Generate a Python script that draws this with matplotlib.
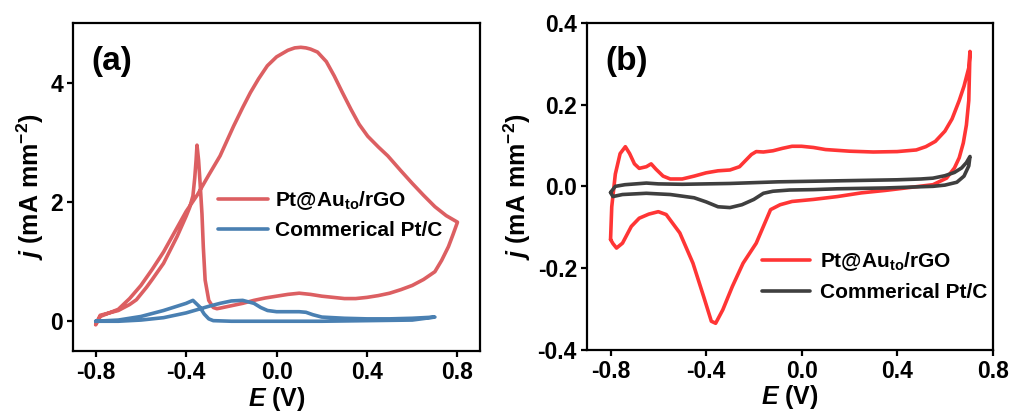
import numpy as np
import matplotlib
matplotlib.use('Agg')
from matplotlib import pyplot as plt

plt.rcParams['font.family'] = ['Liberation Sans', 'DejaVu Sans']
plt.rcParams['font.weight'] = 'bold'
plt.rcParams['axes.labelweight'] = 'bold'
plt.rcParams['axes.unicode_minus'] = False
plt.rcParams['mathtext.fontset'] = 'custom'
plt.rcParams['mathtext.it'] = 'Liberation Sans:italic:bold'
plt.rcParams['mathtext.rm'] = 'Liberation Sans:bold'
plt.rcParams['mathtext.bf'] = 'Liberation Sans:bold'

# (a) Pt@Au_to/rGO, forward then reverse scan
a_red_fwd_x = [-0.80, -0.78, -0.74, -0.70, -0.65, -0.60, -0.55, -0.50, -0.45, -0.40,
               -0.35, -0.30, -0.25, -0.19, -0.15, -0.116, -0.08, -0.041, 0.00, 0.05,
               0.08, 0.107, 0.13, 0.15, 0.181, 0.22, 0.255, 0.29, 0.329, 0.365,
               0.403, 0.45, 0.492, 0.55, 0.60, 0.65, 0.70, 0.75, 0.80]
a_red_fwd_y = [-0.06, 0.08, 0.14, 0.20, 0.38, 0.60, 0.87, 1.16, 1.50, 1.84,
               2.12, 2.45, 2.77, 3.27, 3.58, 3.83, 4.06, 4.28, 4.43, 4.54,
               4.58, 4.59, 4.58, 4.56, 4.51, 4.35, 4.11, 3.84, 3.55, 3.30,
               3.10, 2.92, 2.77, 2.52, 2.31, 2.11, 1.92, 1.77, 1.66]
a_red_rev_x = [0.80, 0.78, 0.76, 0.73, 0.70, 0.65, 0.60, 0.55, 0.50, 0.45,
               0.40, 0.35, 0.30, 0.25, 0.20, 0.15, 0.10, 0.05, 0.00, -0.05,
               -0.10, -0.15, -0.20, -0.25, -0.264, -0.28, -0.30, -0.316, -0.324, -0.33,
               -0.338, -0.345, -0.352, -0.356, -0.362, -0.37, -0.385, -0.40, -0.44, -0.50,
               -0.55, -0.575, -0.62, -0.65, -0.70, -0.75, -0.78, -0.80]
a_red_rev_y = [1.66, 1.45, 1.25, 1.02, 0.83, 0.70, 0.60, 0.53, 0.47, 0.43,
               0.40, 0.38, 0.38, 0.40, 0.42, 0.45, 0.47, 0.45, 0.42, 0.39,
               0.35, 0.30, 0.26, 0.22, 0.21, 0.23, 0.35, 0.69, 1.24, 1.80,
               2.30, 2.70, 2.95, 2.70, 2.40, 2.10, 1.90, 1.76, 1.42, 0.97,
               0.70, 0.57, 0.36, 0.28, 0.18, 0.13, 0.10, -0.05]

# (a) Commerical Pt/C
a_blue_fwd_x = [-0.80, -0.70, -0.60, -0.50, -0.40, -0.30, -0.25, -0.20, -0.15, -0.10,
                -0.07, -0.04, 0.00, 0.05, 0.10, 0.13, 0.16, 0.20, 0.30, 0.40,
                0.50, 0.60, 0.70]
a_blue_fwd_y = [0.00, 0.00, 0.02, 0.06, 0.14, 0.25, 0.30, 0.34, 0.35, 0.30,
                0.23, 0.18, 0.16, 0.16, 0.16, 0.15, 0.11, 0.07, 0.05, 0.04,
                0.04, 0.05, 0.07]
a_blue_rev_x = [0.70, 0.60, 0.40, 0.20, 0.00, -0.20, -0.28, -0.30, -0.32, -0.34,
                -0.37, -0.40, -0.45, -0.50, -0.55, -0.60, -0.70, -0.80]
a_blue_rev_y = [0.07, 0.02, 0.01, 0.00, 0.00, 0.00, 0.01, 0.04, 0.12, 0.24,
                0.35, 0.30, 0.24, 0.18, 0.13, 0.08, 0.02, 0.00]

# (b) Pt@Au_to/rGO
b_red_fwd_x = [-0.80, -0.795, -0.78, -0.76, -0.738, -0.72, -0.70, -0.68, -0.65, -0.63,
               -0.61, -0.58, -0.55, -0.50, -0.45, -0.40, -0.35, -0.30, -0.26, -0.24,
               -0.21, -0.19, -0.16, -0.12, -0.08, -0.04, 0.00, 0.05, 0.10, 0.20,
               0.30, 0.40, 0.48, 0.52, 0.56, 0.60, 0.63, 0.66, 0.68, 0.70, 0.705]
b_red_fwd_y = [-0.13, -0.05, 0.03, 0.08, 0.097, 0.08, 0.055, 0.044, 0.048, 0.055,
               0.042, 0.025, 0.018, 0.018, 0.025, 0.033, 0.038, 0.040, 0.048, 0.060,
               0.078, 0.085, 0.084, 0.087, 0.093, 0.098, 0.098, 0.095, 0.090, 0.086,
               0.084, 0.085, 0.089, 0.097, 0.11, 0.135, 0.165, 0.21, 0.245, 0.29, 0.33]
b_red_rev_x = [0.705, 0.70, 0.69, 0.677, 0.66, 0.64, 0.607, 0.55, 0.45, 0.35,
               0.25, 0.15, 0.05, -0.04, -0.09, -0.13, -0.16, -0.19, -0.245, -0.29,
               -0.33, -0.36, -0.378, -0.41, -0.455, -0.51, -0.567, -0.60, -0.64, -0.68,
               -0.713, -0.75, -0.775, -0.79, -0.80]
b_red_rev_y = [0.33, 0.21, 0.15, 0.106, 0.07, 0.045, 0.02, 0.004, -0.003, -0.010,
               -0.016, -0.025, -0.032, -0.037, -0.045, -0.057, -0.098, -0.139, -0.188, -0.245,
               -0.302, -0.335, -0.330, -0.270, -0.188, -0.114, -0.069, -0.062, -0.068, -0.078,
               -0.098, -0.139, -0.151, -0.140, -0.130]

# (b) Commerical Pt/C
b_blk_fwd_x = [-0.80, -0.78, -0.74, -0.65, -0.60, -0.50, -0.40, -0.30, -0.20, -0.10,
               0.00, 0.10, 0.20, 0.30, 0.40, 0.50, 0.55, 0.60, 0.64, 0.67, 0.69, 0.705]
b_blk_fwd_y = [-0.015, 0.000, 0.004, 0.008, 0.006, 0.005, 0.006, 0.007, 0.009, 0.011,
               0.012, 0.013, 0.014, 0.015, 0.016, 0.018, 0.020, 0.026, 0.034, 0.045, 0.058, 0.073]
b_blk_rev_x = [0.705, 0.70, 0.68, 0.65, 0.60, 0.55, 0.45, 0.35, 0.25, 0.15,
               0.05, -0.05, -0.12, -0.16, -0.20, -0.25, -0.30, -0.35, -0.40, -0.45,
               -0.55, -0.65, -0.75, -0.79, -0.80]
b_blk_rev_y = [0.073, 0.050, 0.025, 0.010, 0.003, 0.000, -0.002, -0.004, -0.005, -0.006,
               -0.008, -0.009, -0.012, -0.017, -0.032, -0.045, -0.052, -0.050, -0.038, -0.028,
               -0.020, -0.017, -0.020, -0.025, -0.015]

label_au = r'Pt@Au$_\mathregular{to}$/rGO'
label_ptc = 'Commerical Pt/C'

fig = plt.figure(figsize=(10.15, 4.15), dpi=100)
ax1 = fig.add_axes([0.072, 0.154, 0.401, 0.791])
ax2 = fig.add_axes([0.578, 0.157, 0.400, 0.788])

lw = 2.6
kw = dict(lw=lw, solid_joinstyle='round', solid_capstyle='round')
ax1.plot(a_red_fwd_x + a_red_rev_x, a_red_fwd_y + a_red_rev_y, color='#dc5f62',
         label=label_au, **kw)
ax1.plot(a_blue_fwd_x + a_blue_rev_x, a_blue_fwd_y + a_blue_rev_y, color='#4a80b2',
         label=label_ptc, **kw)
ax1.set_xlim(-0.9, 0.9)
ax1.set_ylim(-0.5, 5)
ax1.set_xticks([-0.8, -0.4, 0.0, 0.4, 0.8])
ax1.set_yticks([0, 2, 4])
ax1.set_yticklabels(['0', '2', '4'])

ax2.plot(b_red_fwd_x + b_red_rev_x, b_red_fwd_y + b_red_rev_y, color='#ff3535',
         label=label_au, **kw)
ax2.plot(b_blk_fwd_x + b_blk_rev_x, b_blk_fwd_y + b_blk_rev_y, color='#3f3f3f',
         label=label_ptc, **kw)
ax2.set_xlim(-0.9, 0.8)
ax2.set_ylim(-0.4, 0.4)
ax2.set_xticks([-0.8, -0.4, 0.0, 0.4, 0.8])
ax2.set_yticks([-0.4, -0.2, 0.0, 0.2, 0.4])

for ax, tag in [(ax1, '(a)'), (ax2, '(b)')]:
    for s in ax.spines.values():
        s.set_linewidth(1.6)
    ax.tick_params(direction='out', length=4, width=1.6, labelsize=16.5, pad=3)
    ax.set_xlabel(r'$\mathit{E}$ (V)', fontsize=18, labelpad=0.5)
    ax.set_ylabel(r'$\mathit{j}$ (mA mm$^{\mathregular{-2}}$)', fontsize=18, labelpad=3)
    ax.text(0.045, 0.882, tag, transform=ax.transAxes, fontsize=24, fontweight='bold',
            va='center', ha='left')

ax1.legend(loc='center left', bbox_to_anchor=(0.31, 0.415), frameon=False,
           prop={'size': 15, 'weight': 'bold'}, handlelength=2.4, handletextpad=0.35,
           labelspacing=0.45)
ax2.legend(loc='center left', bbox_to_anchor=(0.385, 0.225), frameon=False,
           prop={'size': 15, 'weight': 'bold'}, handlelength=2.3, handletextpad=0.5,
           labelspacing=0.45)

fig.savefig('out.png', dpi=100)
